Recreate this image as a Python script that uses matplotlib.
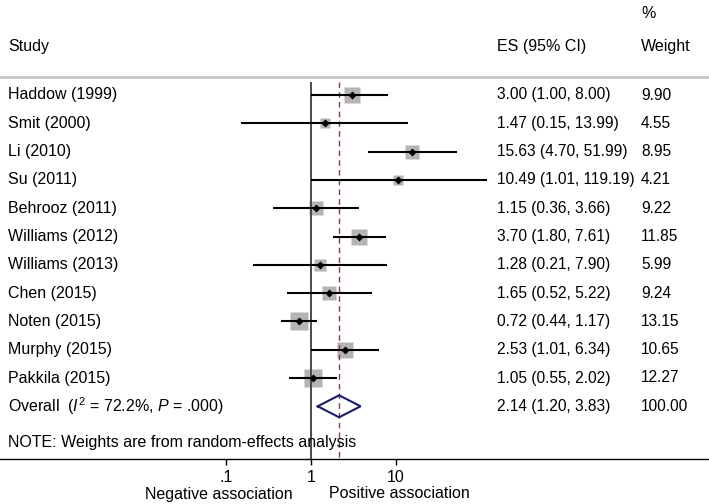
import numpy as np
import matplotlib
matplotlib.use("Agg")
import matplotlib.pyplot as plt

plt.rcParams["font.family"] = ["Liberation Sans", "DejaVu Sans"]
plt.rcParams["mathtext.fontset"] = "custom"
plt.rcParams["mathtext.rm"] = "Liberation Sans"
plt.rcParams["mathtext.it"] = "Liberation Sans:italic"

studies = ["Haddow (1999)", "Smit (2000)", "Li (2010)", "Su (2011)", "Behrooz (2011)",
           "Williams (2012)", "Williams (2013)", "Chen (2015)", "Noten (2015)",
           "Murphy (2015)", "Pakkila (2015)"]
es = [3.00, 1.47, 15.63, 10.49, 1.15, 3.70, 1.28, 1.65, 0.72, 2.53, 1.05]
lo = [1.00, 0.15, 4.70, 1.01, 0.36, 1.80, 0.21, 0.52, 0.44, 1.01, 0.55]
hi = [8.00, 13.99, 51.99, 119.19, 3.66, 7.61, 7.90, 5.22, 1.17, 6.34, 2.02]
weight = [9.90, 4.55, 8.95, 4.21, 9.22, 11.85, 5.99, 9.24, 13.15, 10.65, 12.27]
es_text = ["3.00 (1.00, 8.00)", "1.47 (0.15, 13.99)", "15.63 (4.70, 51.99)",
           "10.49 (1.01, 119.19)", "1.15 (0.36, 3.66)", "3.70 (1.80, 7.61)",
           "1.28 (0.21, 7.90)", "1.65 (0.52, 5.22)", "0.72 (0.44, 1.17)",
           "2.53 (1.01, 6.34)", "1.05 (0.55, 2.02)"]
w_text = ["9.90", "4.55", "8.95", "4.21", "9.22", "11.85", "5.99", "9.24",
          "13.15", "10.65", "12.27"]
overall = (2.14, 1.20, 3.83)
ticks = [0.1, 1, 10]
tick_labels = [".1", "1", "10"]

W, H = 709, 504
fig = plt.figure(figsize=(W / 100, H / 100), dpi=100)
ax = fig.add_axes([0, 0, 1, 1])
ax.set_xscale("log")
# 1 at px 311, one decade = 85 px
ax.set_xlim(10 ** (-311 / 85), 10 ** ((W - 311) / 85))
row_h = 28.3
ax.set_ylim((H - 95) / row_h, -95 / row_h)
ax.axis("off")

fs = 11.5
fs_num = 11.2
tx = ax.get_yaxis_transform()  # x in axes fraction, y in data
px = lambda p: p / W
x_study, x_es, x_w = px(8), px(497), px(641)

top_y = (77 - 95) / row_h
axis_y = (459 - 95) / row_h
line_top = (82 - 95) / row_h

# header
ax.text(x_study, (46 - 95) / row_h, "Study", transform=tx, fontsize=fs, va="center")
ax.text(x_es, (46 - 95) / row_h, "ES (95% CI)", transform=tx, fontsize=fs, va="center")
ax.text(x_w, (46 - 95) / row_h, "Weight", transform=tx, fontsize=fs, va="center")
ax.text(x_w, (13 - 95) / row_h, "%", transform=tx, fontsize=fs, va="center")
ax.axhline(top_y, color="#c8c8c8", lw=2)

# reference lines
ax.vlines(1, line_top, axis_y, color="#4a4a4a", lw=1.4)
ax.vlines(overall[0], line_top, axis_y, color="#a03040", lw=1, linestyles=(0, (4, 3)))

rows = np.arange(len(studies))
for i in rows:
    ax.text(x_study, i, studies[i], transform=tx, fontsize=fs, va="center")
    ax.text(x_es, i, es_text[i], transform=tx, fontsize=fs_num, va="center")
    ax.text(x_w, i, w_text[i], transform=tx, fontsize=fs_num, va="center")
    ax.hlines(i, lo[i], hi[i], color="black", lw=1.5, zorder=2)
    side = 4.9 * np.sqrt(weight[i]) * 0.72
    ax.plot(es[i], i, marker="s", ms=side, color="#b4b4b4", mec="none", zorder=1)
    ax.plot(es[i], i, marker="D", ms=4, color="black", mec="none", zorder=3)

# overall diamond
oi = len(studies)
e, l, h = overall
dh = 11 / row_h
ax.plot([l, e, h, e, l], [oi, oi - dh, oi, oi + dh, oi], color="#1c1c6c", lw=1.5,
        solid_joinstyle="miter")
ax.text(x_study, oi, r"Overall  ($I^2$ = 72.2%, $P$ = .000)", transform=tx,
        fontsize=fs, va="center")
ax.text(x_es, oi, "2.14 (1.20, 3.83)", transform=tx, fontsize=fs_num, va="center")
ax.text(x_w, oi, "100.00", transform=tx, fontsize=fs_num, va="center")

ax.text(x_study, (442 - 95) / row_h, "NOTE: Weights are from random-effects analysis",
        transform=tx, fontsize=fs, va="center")

# bottom axis
ax.axhline(axis_y, color="black", lw=1)
ax.vlines(ticks, axis_y, axis_y + 6 / row_h, color="black", lw=1)
for t, lab in zip(ticks, tick_labels):
    ax.text(t, (478 - 95) / row_h, lab, fontsize=fs, ha="center", va="center")
ax.text(px(219), (494 - 95) / row_h, "Negative association", transform=tx,
        fontsize=fs, ha="center", va="center")
ax.text(px(399), (494 - 95) / row_h, "Positive association", transform=tx,
        fontsize=fs, ha="center", va="center")

fig.savefig("out.png", dpi=100)
